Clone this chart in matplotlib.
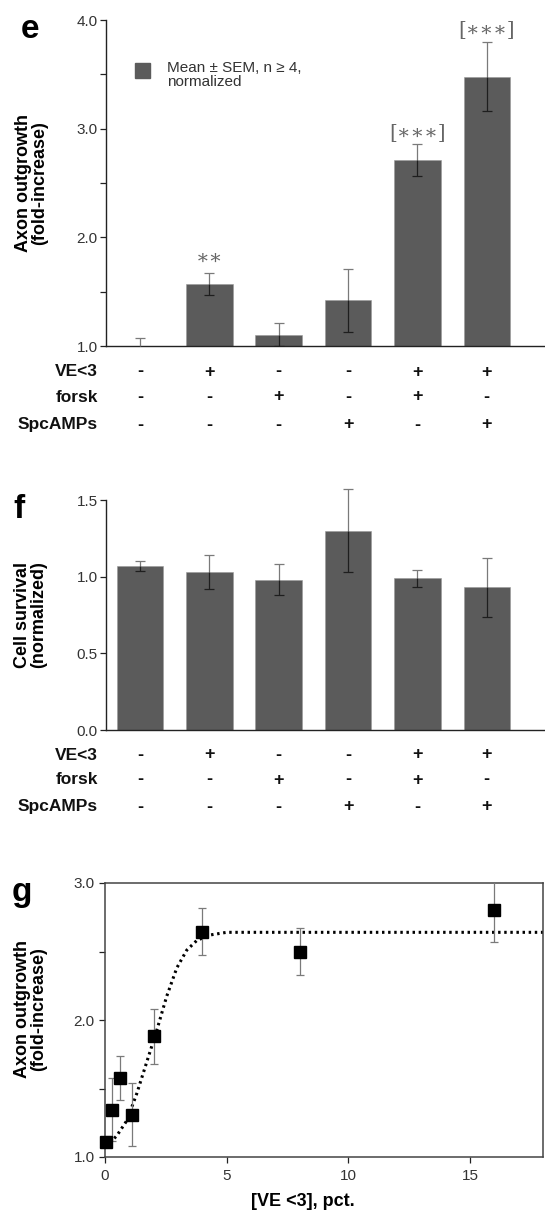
import numpy as np
import matplotlib
matplotlib.use('Agg')
import matplotlib.pyplot as plt
from matplotlib.patches import Rectangle

plt.rcParams['font.family'] = ['Liberation Sans', 'DejaVu Sans']

# ------------------------------------------------------------
# data
# ------------------------------------------------------------
conditions = ['VE<3', 'forsk', 'SpcAMPs']
signs = [
    ['-', '+', '-', '-', '+', '+'],
    ['-', '-', '+', '-', '+', '-'],
    ['-', '-', '-', '+', '-', '+'],
]

# (e) axon outgrowth, fold increase
axon_mean = [1.00, 1.57, 1.10, 1.42, 2.71, 3.48]
axon_sem = [0.07, 0.10, 0.11, 0.29, 0.15, 0.32]
axon_stars = ['', '∗∗', '', '', '[∗∗∗]', '[∗∗∗]']
axon_star_y = [None, 1.81, None, None, 2.96, 3.90]

# (f) cell survival, normalized
surv_mean = [1.07, 1.03, 0.98, 1.30, 0.99, 0.93]
surv_sem = [0.035, 0.11, 0.10, 0.27, 0.055, 0.19]

# (g) dose response
dose = [0.06, 0.3, 0.6, 1.1, 2.0, 4.0, 8.0, 16.0]
dose_mean = [1.11, 1.345, 1.575, 1.31, 1.88, 2.645, 2.50, 2.80]
dose_sem = [0.04, 0.23, 0.16, 0.23, 0.20, 0.17, 0.17, 0.23]
fit_x = [0.2, 0.48, 0.89, 1.3, 1.71, 2.12, 2.53, 2.95, 3.36, 3.77, 4.3, 5.0, 18.0]
fit_y = [1.105, 1.154, 1.264, 1.46, 1.69, 1.92, 2.17, 2.38, 2.51, 2.58, 2.62, 2.64, 2.64]

BAR = '#5b5b5b'
INK = '#333333'
W, H = 545, 1212

fig = plt.figure(figsize=(W / 100, H / 100), dpi=100)


def px_axes(left, top, right, bottom):
    return fig.add_axes([left / W, 1 - bottom / H, (right - left) / W, (bottom - top) / H])


def bar_panel(ax, means, sems, ylim, row_offsets):
    x = np.arange(len(means))
    ax.bar(x, means, width=0.67, color=BAR, edgecolor='#9a9a9a', linewidth=0.4, zorder=2)
    means = np.array(means)
    sems = np.array(sems)
    # upper half of the error bar (gray, over white), lower half (dark, over bar)
    ax.vlines(x, means, means + sems, color='#7a7a7a', lw=0.9, zorder=3, clip_on=False)
    ax.plot(x, means + sems, ls='none', marker='_', ms=7, mew=0.9, color='#7a7a7a',
            zorder=3, clip_on=False)
    lo = np.maximum(means - sems, ylim[0])
    show = means > ylim[0] + 0.01
    ax.vlines(x[show], lo[show], means[show], color='#1e1e1e', lw=0.9, zorder=3)
    ax.plot(x[show], lo[show], ls='none', marker='_', ms=7, mew=0.9, color='#1e1e1e', zorder=3)
    ax.set_xlim(-0.49, 5.84)
    ax.set_ylim(*ylim)
    ax.set_xticks([])
    for s in ['top', 'right']:
        ax.spines[s].set_visible(False)
    for s in ['left', 'bottom']:
        ax.spines[s].set_color('#222222')
        ax.spines[s].set_linewidth(1.0)
    ax.tick_params(axis='y', direction='out', length=4, width=0.9, color='#222222',
                   labelsize=11, labelcolor=INK, pad=2)
    # treatment table under the bars
    for r, (name, row) in enumerate(zip(conditions, signs)):
        off = -row_offsets[r] * 0.72
        ax.annotate(name, xy=(0, 0), xycoords='axes fraction', xytext=(-8 * 0.72, off),
                    textcoords='offset points', ha='right', va='center',
                    fontsize=12.5, fontweight='bold', color='#111111', annotation_clip=False)
        for i, s in enumerate(row):
            ax.annotate(s, xy=(i, 0), xycoords=('data', 'axes fraction'), xytext=(0, off),
                        textcoords='offset points', ha='center', va='center',
                        fontsize=13, fontweight='bold', color='#111111', annotation_clip=False)


# ---------------- panel e ----------------
ax_e = px_axes(106, 20, 545, 346)
bar_panel(ax_e, axon_mean, axon_sem, (1.0, 4.0), [26, 51, 79])
ax_e.set_yticks([1.0, 2.0, 3.0, 4.0])
ax_e.set_yticks([1.5, 2.5, 3.5], minor=True)
ax_e.tick_params(axis='y', which='minor', direction='out', length=4, width=0.9, color='#222222')
ax_e.set_yticklabels(['1.0', '2.0', '3.0', '4.0'])
for i, (t, y) in enumerate(zip(axon_stars, axon_star_y)):
    if t:
        ax_e.text(i, y, t, ha='center', va='center', fontsize=14.5, color='#666666',
                  family=['DejaVu Serif'])
ax_e.add_patch(Rectangle((0.066, 0.822), 0.034, 0.046, transform=ax_e.transAxes,
                         color=BAR, clip_on=False))
ax_e.text(0.139, 0.874, 'Mean ± SEM, n ≥ 4,\nnormalized', transform=ax_e.transAxes,
          ha='left', va='top', fontsize=11, color=INK, linespacing=0.95)
ax_e.set_ylabel('Axon outgrowth\n(fold-increase)', fontsize=13, fontweight='bold',
                linespacing=0.95)
ax_e.yaxis.set_label_coords(-0.132, 0.5)
fig.text(30 / W, 1 - 29 / H, 'e', fontsize=24, fontweight='bold', ha='center', va='center')

# ---------------- panel f ----------------
ax_f = px_axes(106, 500, 545, 730)
bar_panel(ax_f, surv_mean, surv_sem, (0.0, 1.5), [25, 50, 77])
ax_f.set_yticks([0.0, 0.5, 1.0, 1.5])
ax_f.set_yticklabels(['0.0', '0.5', '1.0', '1.5'])
ax_f.set_ylabel('Cell survival\n(normalized)', fontsize=13, fontweight='bold',
                linespacing=0.95)
ax_f.yaxis.set_label_coords(-0.134, 0.5)
fig.text(19 / W, 1 - 510 / H, 'f', fontsize=24, fontweight='bold', ha='center', va='center')

# ---------------- panel g ----------------
ax_g = px_axes(105, 883, 543, 1157)
ax_g.plot(fit_x, fit_y, color='black', lw=2.2, ls=(0, (0.8, 1.2)), zorder=2)
ax_g.errorbar(dose, dose_mean, yerr=dose_sem, fmt='none', ecolor='#7a7a7a', elinewidth=0.9,
              capsize=3, capthick=0.9, zorder=3)
ax_g.plot(dose, dose_mean, ls='none', marker='s', ms=8, color='black', zorder=4,
          clip_on=False)
ax_g.set_xlim(0, 18.0)
ax_g.set_ylim(1.0, 3.0)
ax_g.set_xticks([0, 5, 10, 15])
ax_g.set_yticks([1.0, 2.0, 3.0])
ax_g.set_yticks([1.5, 2.5], minor=True)
ax_g.set_yticklabels(['1.0', '2.0', '3.0'])
ax_g.tick_params(axis='both', which='both', direction='out', length=4, width=0.9,
                 color='#222222', labelsize=11, labelcolor=INK)
ax_g.tick_params(axis='x', pad=5)
for s in ax_g.spines.values():
    s.set_color('#444444')
    s.set_linewidth(1.1)
ax_g.set_ylabel('Axon outgrowth\n(fold-increase)', fontsize=13, fontweight='bold',
                linespacing=0.95)
ax_g.yaxis.set_label_coords(-0.132, 0.54)
fig.text(303 / W, 1 - 1202 / H, '[VE <3], pct.', fontsize=13, fontweight='bold',
         ha='center', va='center')
fig.text(22 / W, 1 - 892 / H, 'g', fontsize=24, fontweight='bold', ha='center', va='center')

fig.savefig('out.png', dpi=100)
